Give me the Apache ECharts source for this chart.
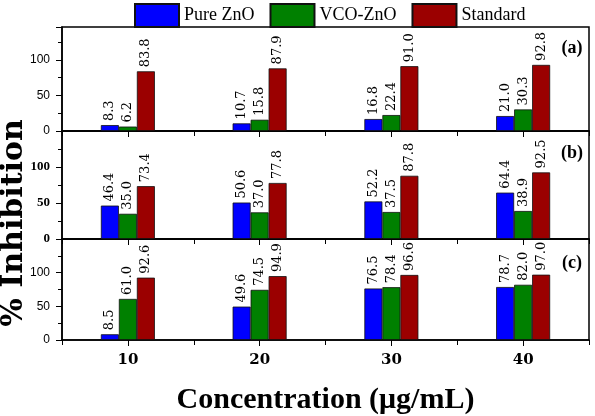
<!DOCTYPE html>
<html>
<head>
<meta charset="utf-8">
<script src="https://cdn.jsdelivr.net/npm/echarts@6/dist/echarts.min.js"></script>
<style>html,body{margin:0;padding:0;background:#fff;}#chart{width:595px;height:416px;}</style>
</head>
<body>
<div id="chart"></div>
<script>
const categories = ['10', '20', '30', '40'];
const seriesNames = ['Pure ZnO', 'VCO-ZnO', 'Standard'];
const panelLabels = ['(a)', '(b)', '(c)'];
const yTicks = [0, 50, 100];

const a_pure = [8.3, 10.7, 16.8, 21.0];
const a_vco = [6.2, 15.8, 22.4, 30.3];
const a_std = [83.8, 87.9, 91.0, 92.8];

const b_pure = [46.4, 50.6, 52.2, 64.4];
const b_vco = [35.0, 37.0, 37.5, 38.9];
const b_std = [73.4, 77.8, 87.8, 92.5];

const c_pure = [8.5, 49.6, 76.5, 78.7];
const c_vco = [61.0, 74.5, 78.4, 82.0];
const c_std = [92.6, 94.9, 96.6, 97.0];

const panels = [[a_pure, a_vco, a_std], [b_pure, b_vco, b_std], [c_pure, c_vco, c_std]];
const colors = ['#0000ff', '#008000', '#9b0000'];

const gridDefs = [
  {top: 27, height: 104, max: 146},
  {top: 131, height: 108, max: 150},
  {top: 239, height: 108, max: 150}
];

const chart = echarts.init(document.getElementById('chart'), null, {renderer: 'canvas'});

const grids = [], xAxes = [], yAxes = [], series = [];
gridDefs.forEach((g, i) => {
  grids.push({left: 62, right: 6, top: g.top, height: g.height, show: true,
    borderColor: '#000', borderWidth: 1.5, backgroundColor: 'transparent'});
  xAxes.push({
    type: 'category', gridIndex: i, data: categories, boundaryGap: true,
    axisLine: {lineStyle: {color: '#000', width: 1.5}},
    axisTick: {show: true, length: 5, lineStyle: {color: '#000', width: 1}},
    axisLabel: i === 2 ? {show: true, margin: 13, color: '#000', fontFamily: 'DejaVu Serif', fontWeight: 'bold', fontSize: 15} : {show: false},
    name: i === 2 ? 'Concentration (\u03bcg/mL)' : '',
    nameLocation: 'middle', nameGap: 45,
    nameTextStyle: {color: '#000', fontFamily: 'Liberation Serif', fontWeight: 'bold', fontSize: 30}
  });
  xAxes.push({
    type: 'category', gridIndex: i, data: categories, boundaryGap: true, position: 'bottom',
    axisLine: {show: false},
    axisTick: {show: true, alignWithLabel: true, length: 6, lineStyle: {color: '#000', width: 1}},
    axisLabel: {show: false}
  });
  const isB = i === 1;
  yAxes.push({
    type: 'value', gridIndex: i, min: 0, max: g.max, interval: 50,
    splitLine: {show: false},
    axisLine: {show: true, lineStyle: {color: '#000', width: 1.5}},
    axisTick: {show: true, length: 6, lineStyle: {color: '#000', width: 1}},
    minorTick: {show: true, splitNumber: 2, length: 4, lineStyle: {color: '#000', width: 1}},
    axisLabel: {
      margin: 12, color: '#000',
      fontFamily: isB ? 'Liberation Serif' : 'Liberation Sans',
      fontWeight: isB ? 'bold' : 'normal',
      fontSize: isB ? 13 : 12,
      formatter: v => (yTicks.indexOf(v) >= 0 ? String(v) : '')
    }
  });
  panels[i].forEach((vals, s) => {
    series.push({
      type: 'bar', name: seriesNames[s], xAxisIndex: i * 2, yAxisIndex: i,
      data: vals, barWidth: 18, barGap: '0%',
      itemStyle: {color: colors[s], borderColor: '#111', borderWidth: 0.8},
      label: {
        show: true, position: 'top', rotate: 90, distance: 4,
        align: 'left', verticalAlign: 'middle',
        color: '#000', fontFamily: 'DejaVu Serif', fontSize: 13,
        formatter: p => Number(p.value).toFixed(1)
      }
    });
  });
});

const labelY = [48, 153, 263];
const graphics = panelLabels.map((t, i) => ({
  type: 'text', x: 572, y: labelY[i],
  style: {text: t, fill: '#000', font: 'bold 18px "Liberation Serif"', textAlign: 'center', textVerticalAlign: 'middle'}
}));
graphics.push({
  type: 'text', x: 14, y: 223, rotation: Math.PI / 2,
  style: {text: '% Inhibition', fill: '#000', font: 'bold 30px "DejaVu Serif"', textAlign: 'center', textVerticalAlign: 'middle'}
});

chart.setOption({
  animation: false,
  backgroundColor: '#fff',
  legend: {
    data: seriesNames, left: 129, top: -2, itemWidth: 44, itemHeight: 23, itemGap: 15,
    icon: 'rect',
    textStyle: {color: '#000', fontFamily: 'Liberation Serif', fontSize: 18}
  },
  grid: grids,
  xAxis: xAxes,
  yAxis: yAxes,
  series: series,
  graphic: graphics
});
</script>
</body>
</html>
